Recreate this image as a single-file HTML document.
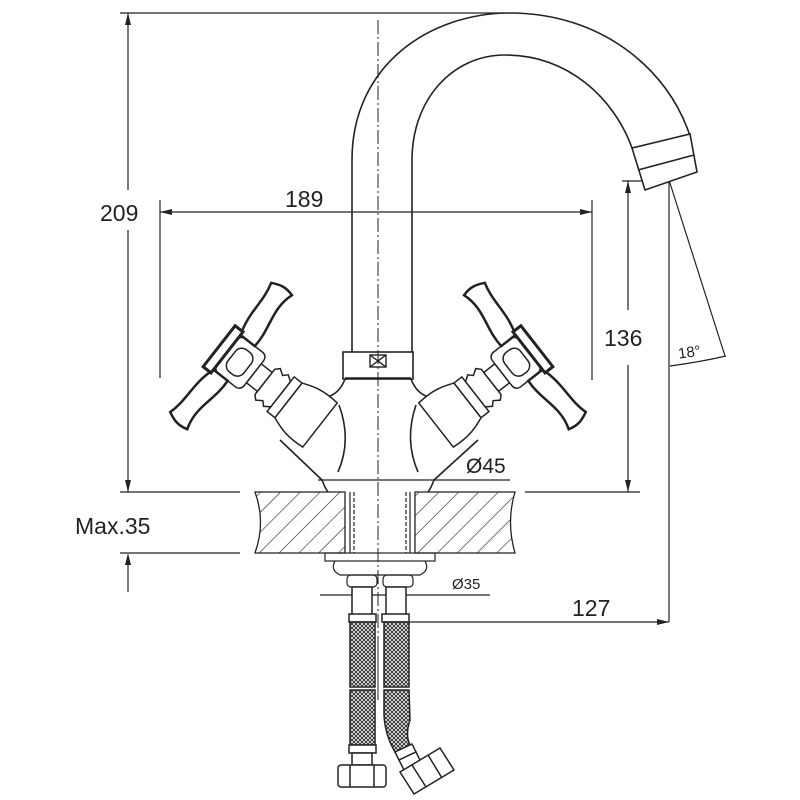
<!DOCTYPE html>
<html><head><meta charset="utf-8"><style>
html,body{margin:0;padding:0;background:#fff;}
svg{display:block}
text{font-family:"Liberation Sans",sans-serif;fill:#222;}
</style></head><body>
<svg width="800" height="800" viewBox="0 0 800 800" xmlns="http://www.w3.org/2000/svg">
<defs>
<pattern id="hatch" width="14" height="14" patternUnits="userSpaceOnUse" patternTransform="rotate(45)">
<line x1="0" y1="0" x2="0" y2="14" stroke="#222" stroke-width="1.2"/>
</pattern>
<pattern id="mesh" width="4" height="4" patternUnits="userSpaceOnUse">
<rect width="4" height="4" fill="#fff"/>
<path d="M0,0 L4,4 M4,0 L0,4" stroke="#333" stroke-width="1"/>
</pattern>
<g id="handle" fill="#fff" stroke="#222" stroke-width="1.5">
<path d="M0,-28 C20,-30 30,-26 40,-22 L40,22 C30,26 20,30 0,28 Z"/>
<rect x="40" y="-22" width="10" height="44"/>
<path d="M50,-16 L56,-20 L60,-16 L66,-20 L70,-16 L70,16 L66,20 L60,16 L56,20 L50,16 Z"/>
<rect x="70" y="-12" width="14" height="24"/>
<rect x="84" y="-22" width="34" height="44" rx="6"/>
<rect x="92" y="-14" width="20" height="28" rx="8"/>
<path d="M100,-22 C98,-45 110,-62 102,-85 C112,-88 118,-86 126,-82 C120,-62 126,-45 118,-22 Z" stroke-width="2.5"/>
<path d="M100,22 C98,45 110,62 102,85 C112,88 118,86 126,82 C120,62 126,45 118,22 Z" stroke-width="2.5"/>
<rect x="118" y="-26" width="10" height="52" stroke-width="3"/>
</g>
</defs>

<g stroke="#222" stroke-width="1.2" fill="none">
<line x1="120" y1="13" x2="505" y2="13"/>
<line x1="128" y1="13" x2="128" y2="190"/>
<line x1="128" y1="230" x2="128" y2="492"/>
<line x1="120" y1="492" x2="240" y2="492"/>
<line x1="525" y1="492" x2="640" y2="492"/>
<line x1="120" y1="553" x2="240" y2="553"/>
<line x1="128" y1="560" x2="128" y2="592"/>
<line x1="160" y1="200" x2="160" y2="378"/>
<line x1="592" y1="200" x2="592" y2="380"/>
<line x1="160" y1="212" x2="592" y2="212"/>
<line x1="622" y1="181" x2="658" y2="181"/>
<line x1="628" y1="181" x2="628" y2="310"/>
<line x1="628" y1="365" x2="628" y2="492"/>
<line x1="669" y1="180" x2="669" y2="622"/>
<line x1="410" y1="622" x2="669" y2="622"/>
<line x1="669" y1="180" x2="725" y2="356"/>
<path d="M670,366 Q700,362 726,356"/>
<line x1="318" y1="480" x2="510" y2="480"/>
<line x1="320" y1="595" x2="490" y2="595"/>
</g>
<g fill="#222">
<path d="M128,13 l-3,12 h6z"/><path d="M128,492 l-3,-12 h6z"/>
<path d="M160,212 l12,-3 v6z"/><path d="M592,212 l-12,-3 v6z"/>
<path d="M628,181 l-3,12 h6z"/><path d="M628,492 l-3,-12 h6z"/>
<path d="M669,622 l-12,-3 v6z"/>
<path d="M128,553 l-3,12 h6z"/>
</g>
<text x="100" y="221" font-size="23">209</text>
<text x="285" y="207" font-size="23">189</text>
<text x="604" y="346" font-size="23">136</text>
<text x="572" y="616" font-size="23">127</text>
<text x="75" y="534" font-size="23">Max.35</text>
<text x="466" y="473" font-size="21">Ø45</text>
<text x="452" y="589" font-size="15">Ø35</text>
<text x="678" y="357" font-size="15" transform="rotate(-8 690 352)">18°</text>

<path d="M255,492 L345,492 L345,553 L255,553 Q266,522 255,492Z" fill="url(#hatch)" stroke="#222" stroke-width="1.3"/>
<path d="M415,492 L515,492 Q506,522 515,553 L415,553Z" fill="url(#hatch)" stroke="#222" stroke-width="1.3"/>
<g stroke="#222" stroke-width="1.2" fill="none">
<line x1="350" y1="492" x2="350" y2="553"/><line x1="410" y1="492" x2="410" y2="553"/>
<line x1="354" y1="492" x2="354" y2="553" stroke-dasharray="4 2"/><line x1="406" y1="492" x2="406" y2="553" stroke-dasharray="4 2"/>
<rect x="325" y="553" width="110" height="8"/>
<path d="M335,561 Q330,570 340,575 L420,575 Q430,570 425,561"/>
<rect x="347" y="575" width="30" height="12" rx="4"/><rect x="383" y="575" width="30" height="12" rx="4"/>
</g>

<g stroke="#222" stroke-width="1.6" fill="none">
<path d="M352,352 L352,160 C352,65 430,13 510,13 C600,13 668,68 690,136"/>
<path d="M412,352 L412,160 C412,100 452,55 505,55 C568,55 614,98 632,148"/>
<path d="M632,148 L690,134 L697,172 L645,190 Z" fill="#fff"/>
<line x1="638" y1="170" x2="694" y2="155"/>
<rect x="343" y="352" width="70" height="27"/>
<path d="M345,379 Q340,392 330,396 L320,396"/>
<path d="M411,379 Q416,392 426,396 L436,396"/>
<line x1="345" y1="378" x2="411" y2="378"/>
<path d="M339,405 Q352,440 338,472"/><path d="M416,405 Q404,440 418,472"/>
<path d="M280,440 L322,480 Q325,488 328,492"/><path d="M478,440 L434,480 Q431,488 428,492"/>
</g>
<use href="#handle" transform="translate(320,425) rotate(-142)"/>
<use href="#handle" transform="translate(436,425) scale(-1,1) rotate(-142)"/>
<g stroke="#222" stroke-width="1.4"><rect x="370" y="355" width="16" height="12" fill="none"/><path d="M370,355 L386,367 M386,355 L370,367"/></g>
<line x1="378" y1="20" x2="378" y2="640" stroke="#222" stroke-width="1" stroke-dasharray="14 3 2 3"/>

<g stroke="#222" stroke-width="1.5" fill="#fff">
<rect x="352" y="587" width="20" height="32"/>
<rect x="386" y="587" width="20" height="32"/>
<rect x="349" y="614" width="27" height="8"/>
<rect x="382" y="614" width="27" height="8"/>
<rect x="350" y="622" width="25" height="65" fill="url(#mesh)"/>
<rect x="384" y="622" width="25" height="65" fill="url(#mesh)"/>
<rect x="350" y="690" width="25" height="55" fill="url(#mesh)"/>
<path d="M384,690 L409,690 L410,720 Q405,735 410,745 L395,752 Q385,735 384,715Z" fill="url(#mesh)"/>
<rect x="349" y="745" width="27" height="8"/>
<rect x="352" y="753" width="20" height="12"/>
<rect x="338" y="765" width="48" height="22" rx="3"/>
<line x1="350" y1="765" x2="350" y2="787"/><line x1="374" y1="765" x2="374" y2="787"/>
<path d="M395,752 L412,744 L416,752 L399,760Z"/>
<path d="M399,760 L416,752 L424,768 L407,776Z"/>
<path d="M400,772 L440,748 L454,770 L414,794Z"/>
<line x1="412" y1="765" x2="426" y2="787"/><line x1="428" y1="755" x2="442" y2="778"/>
</g>
<line x1="378" y1="640" x2="378" y2="700" stroke="#222" stroke-width="1"/>
</svg>
</body></html>
